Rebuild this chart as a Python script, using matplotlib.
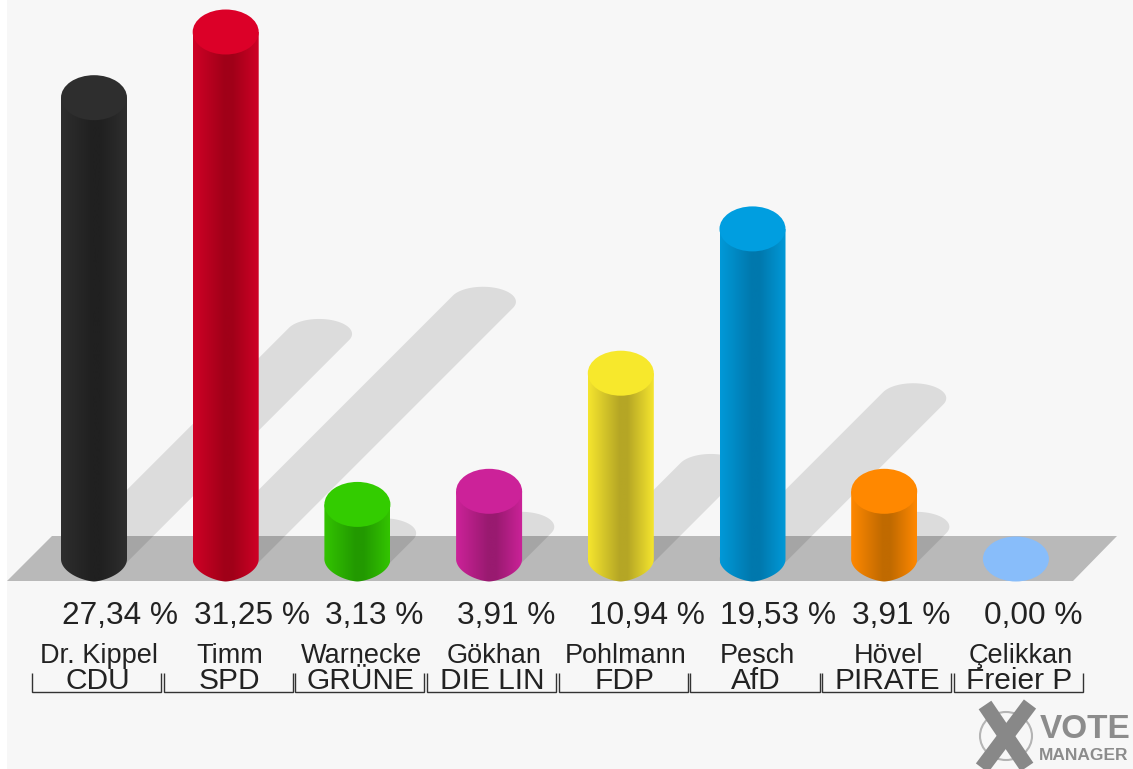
# -*- coding: utf-8 -*-
import numpy as np
import matplotlib
matplotlib.use('Agg')
import matplotlib.pyplot as plt
from matplotlib.colors import to_rgb
from matplotlib.patches import Ellipse, PathPatch, Polygon
from matplotlib.path import Path

# data
names   = ['Dr. Kippel', 'Timm', 'Warnecke', 'Gökhan', 'Pohlmann', 'Pesch', 'Hövel', 'Çelikkan']
parties = ['CDU', 'SPD', 'GRÜNE', 'DIE LIN', 'FDP', 'AfD', 'PIRATE', 'Freier P']
values  = [27.34, 31.25, 3.13, 3.91, 10.94, 19.53, 3.91, 0.00]
labels  = ['27,34 %', '31,25 %', '3,13 %', '3,91 %', '10,94 %', '19,53 %', '3,91 %', '0,00 %']
tops    = ['#2e2e2e', '#dc0028', '#33cc00', '#cc2299', '#f7e82c', '#009ee0', '#ff8800', '#88bdfa']
edges   = ['#2e2e2e', '#cf0026', '#33c400', '#cc2299', '#f5e52e', '#0099d8', '#ff8800', '#88bdfa']
darks   = ['#202020', '#a00018', '#229900', '#991a70', '#b5a625', '#0078ad', '#c06a00', '#88bdfa']

# picture scale, pixels per bar slot and per percent point
W, H = 1133, 769
PX, PY = 131.7, 16.8
X0, Y0 = 94, 557       # first bar and zero line, in pixels
BASE = -2 / PY         # centre of the foot ellipse sits a little under the zero line
RX, RY = 33 / PX, 22.5 / PY

fig = plt.figure(figsize=(W / 100, H / 100), dpi=100, facecolor='white')
ax = fig.add_axes([0, 0, 1, 1])
ax.axis('off')


def ux(px):
    return (px - X0) / PX


def uy(py):
    return (Y0 - py) / PY


xlim = (ux(0), ux(W))
ylim = (uy(H), uy(0))
ax.set_xlim(xlim)
ax.set_ylim(ylim)
plt.rcParams['font.family'] = ['Liberation Sans', 'DejaVu Sans']

# background and floor
ax.add_patch(Polygon([(ux(7), uy(H)), (ux(W), uy(H)), (ux(W), uy(0)), (ux(7), uy(0))],
                     fc='#f7f7f7', ec='none', zorder=0))
ax.add_patch(Polygon([(ux(7), uy(581)), (ux(1073), uy(581)), (ux(1117), uy(536)), (ux(52), uy(536))],
                     fc='#b9b9b9', ec='none', zorder=1))

# shadows, a 45 degree band that ends in a rounded tip
for i, v in enumerate(values):
    if v == 0:
        continue
    L = 0.49 * v * PY
    a, b = 33.0, 15.0
    t0 = np.arctan2(-b, a)
    t1 = np.linspace(t0, t0 + np.pi, 40)
    t2 = np.linspace(t0 + np.pi, t0 + 2 * np.pi, 40)
    xs = np.r_[L + a * np.cos(t1), a * np.cos(t2)]
    ys = np.r_[L + b * np.sin(t1), b * np.sin(t2)]
    ax.add_patch(Polygon(np.c_[i + xs / PX, BASE + ys / PY], fc='black', alpha=0.105, ec='none', zorder=2))

# cylinders
for i, v in enumerate(values):
    if v > 0:
        t = np.linspace(np.pi, 2 * np.pi, 60)
        cx = np.sign(np.cos(t)) * np.abs(np.cos(t)) ** 1.3
        verts = [(i - RX, v)] + list(zip(i + RX * cx, BASE + RY * np.sin(t))) + [(i + RX, v), (i - RX, v)]
        codes = [Path.MOVETO] + [Path.LINETO] * (len(verts) - 2) + [Path.CLOSEPOLY]
        clip = PathPatch(Path(verts, codes), fc='none', ec='none', transform=ax.transData)
        ax.add_patch(clip)

        c1, c2 = np.array(to_rgb(edges[i])), np.array(to_rgb(darks[i]))
        s = np.linspace(0, 1, 128)
        k = np.interp(s, [0, 0.48, 0.6, 1], [0, 1, 1, 0])
        grad = (c1[None, :] * (1 - k[:, None]) + c2[None, :] * k[:, None])[None, :, :]
        im = ax.imshow(grad, extent=(i - RX, i + RX, BASE - RY, v), aspect='auto', zorder=3,
                       interpolation='bilinear')
        im.set_clip_path(clip)
        ax.add_patch(Ellipse((i, v), 2 * RX, 2 * RY, fc=tops[i], ec='none', zorder=4))
    else:
        ax.add_patch(Ellipse((i, BASE), 2 * RX, 2 * RY, fc=tops[i], ec='none', zorder=4))

ax.set_xlim(xlim)
ax.set_ylim(ylim)

# labels and brackets
for i in range(len(values)):
    ax.text(i - RX + 1 / PX, uy(616), labels[i], fontsize=22.8, color='#222222', ha='left', va='center', zorder=5)
    xc = i + 2.5 / PX
    ax.text(xc + 2 / PX, uy(656), names[i], fontsize=19.5, color='#222222', ha='center', va='center', zorder=5)
    ax.text(xc + 1 / PX, uy(681), parties[i], fontsize=21.5, color='#222222', ha='center', va='center', zorder=5)
    ax.plot([xc - 64.5 / PX, xc - 64.5 / PX, xc + 64.5 / PX, xc + 64.5 / PX],
            [uy(673), uy(692), uy(692), uy(673)], color='#333333', lw=1.0, zorder=5,
            solid_joinstyle='miter', solid_capstyle='butt')

# logo
ax.add_patch(Ellipse((ux(1006), uy(736)), 52 / PX, 48 / PY, fc='none', ec='#b4b4b4', lw=1.5, zorder=5))
ax.plot([ux(985), ux(1027)], [uy(705), uy(767)], color='#888888', lw=11, solid_capstyle='butt', zorder=6)
ax.plot([ux(1030), ux(982)], [uy(704), uy(768)], color='#888888', lw=11, solid_capstyle='butt', zorder=6)
ax.text(ux(1040), uy(729), 'VOTE', fontsize=24, fontweight='bold', color='#8c8c8c', ha='left', va='center', zorder=6)
ax.text(ux(1039), uy(755), 'MANAGER', fontsize=12.5, fontweight='bold', color='#8c8c8c', ha='left', va='center', zorder=6)

fig.savefig('out.png', dpi=100, facecolor='white')
